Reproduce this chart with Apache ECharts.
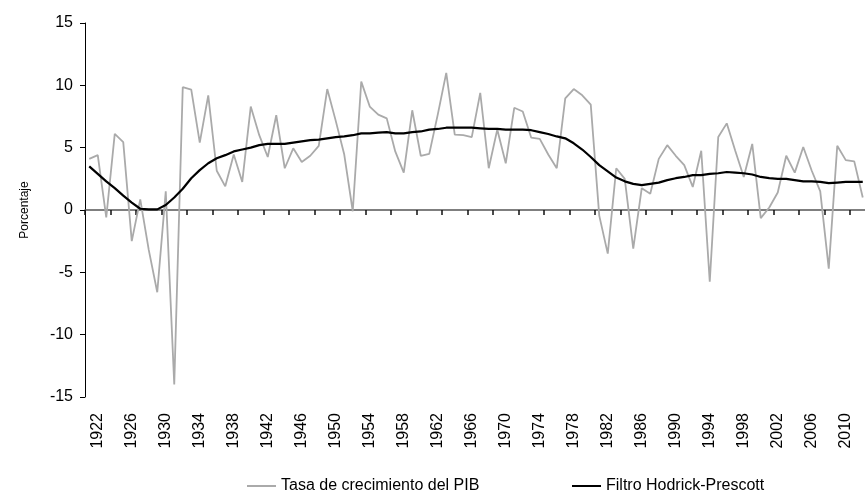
<!DOCTYPE html>
<html>
<head>
<meta charset="utf-8">
<title>Tasa de crecimiento del PIB y filtro Hodrick-Prescott</title>
<script src="https://cdn.jsdelivr.net/npm/echarts@6.0.0/dist/echarts.min.js"></script>
<style>
  html, body { margin: 0; padding: 0; background: #fff; }
  #chart { width: 865px; height: 501px; }
</style>
</head>
<body>
<div id="chart"></div>
<script>
const firstYear = 1922
const lastYear = 2013
const years = []
for (let y = firstYear; y <= lastYear; y++) years.push(String(y))

// tasa anual de crecimiento del PIB (%)
const pibGrowth = [
  4.1, 4.4, -0.6, 6.1, 5.45, -2.5, 0.85, -3.2, -6.6, 1.5,
  -14.0, 9.85, 9.65, 5.4, 9.2, 3.15, 1.9, 4.45, 2.25, 8.3,
  6.0, 4.25, 7.6, 3.35, 4.95, 3.85, 4.35, 5.15, 9.7, 7.15,
  4.45, -0.1, 10.3, 8.3, 7.65, 7.35, 4.7, 3.0, 8.0, 4.35,
  4.5, 7.65, 11.0, 6.05, 6.0, 5.85, 9.4, 3.35, 6.45, 3.75,
  8.2, 7.9, 5.8, 5.7, 4.45, 3.35, 8.95, 9.7, 9.2, 8.45,
  -0.45, -3.5, 3.35, 2.5, -3.1, 1.75, 1.3, 4.1, 5.2, 4.35,
  3.6, 1.85, 4.75, -5.75, 5.85, 6.95, 4.75, 2.65, 5.3, -0.65,
  0.2, 1.4, 4.35, 3.0, 5.05, 3.15, 1.5, -4.7, 5.15, 4.0,
  3.9, 1.0,
]

// tendencia del filtro Hodrick-Prescott (%)
const hpTrend = [
  3.5, 2.9, 2.3, 1.75, 1.15, 0.6, 0.1, 0.05, 0.05, 0.4,
  1.0, 1.7, 2.55, 3.2, 3.75, 4.15, 4.4, 4.7, 4.85, 5.0,
  5.2, 5.3, 5.3, 5.3, 5.4, 5.5, 5.6, 5.65, 5.75, 5.85,
  5.9, 6.0, 6.15, 6.15, 6.2, 6.25, 6.15, 6.15, 6.25, 6.3,
  6.45, 6.5, 6.6, 6.6, 6.6, 6.6, 6.55, 6.5, 6.5, 6.45,
  6.45, 6.45, 6.4, 6.25, 6.1, 5.9, 5.75, 5.35, 4.85, 4.25,
  3.6, 3.1, 2.6, 2.3, 2.1, 2.0, 2.1, 2.2, 2.4, 2.55,
  2.65, 2.8, 2.8, 2.9, 2.95, 3.05, 3.0, 2.95, 2.85, 2.65,
  2.55, 2.5, 2.5, 2.4, 2.3, 2.3, 2.25, 2.15, 2.2, 2.25,
  2.25, 2.25,
]

const seriesNames = ['Tasa de crecimiento del PIB', 'Filtro Hodrick-Prescott']
const yMin = -15
const yMax = 15
const yStep = 5
const tickEvery = 3   // a tick mark every three years on the zero line

const gridTop = 23
const gridHeight = 374
// pixel distance from the top of the plot down to the zero line
const zeroOffset = gridHeight * yMax / (yMax - yMin)

const font = "'Liberation Sans Narrow', 'Liberation Sans', sans-serif"
const txt = (size) => ({ fontFamily: font, fontSize: size, color: '#000' })

const chart = echarts.init(document.getElementById('chart'))

chart.setOption({
  animation: false,
  backgroundColor: '#fff',
  textStyle: { fontFamily: font },
  grid: { left: 85, top: gridTop, width: 782, height: gridHeight, outerBoundsMode: 'none', containLabel: false },
  legend: [
    {
      data: [{ name: seriesNames[0], icon: 'rect' }],
      left: 247,
      top: 478,
      padding: 0,
      itemWidth: 29,
      itemHeight: 2,
      textStyle: txt(16),
    },
    {
      data: [{ name: seriesNames[1], icon: 'rect' }],
      left: 572,
      top: 478,
      padding: 0,
      itemWidth: 29,
      itemHeight: 2,
      textStyle: txt(16),
    },
  ],
  xAxis: [
    {
      // year labels along the bottom of the plot
      type: 'category',
      data: years,
      position: 'bottom',
      axisLine: { show: false, onZero: false },
      axisTick: { show: false },
      axisLabel: Object.assign({
        interval: 3,
        rotate: 90,
        margin: 16,
        verticalAlign: 'top',
      }, txt(16)),
      splitLine: { show: false },
    },
    {
      // the axis line with its ticks runs through zero; one unit per year band
      type: 'value',
      min: 0,
      max: years.length,
      interval: tickEvery,
      position: 'top',
      offset: -zeroOffset,
      axisLine: { show: true, onZero: false, lineStyle: { color: '#555', width: 1.5 } },
      axisTick: { show: true, inside: true, length: 5, lineStyle: { color: '#111', width: 1.5 } },
      axisLabel: { show: false },
      splitLine: { show: false },
    },
  ],
  yAxis: {
    type: 'value',
    min: yMin,
    max: yMax,
    interval: yStep,
    name: 'Porcentaje',
    nameLocation: 'middle',
    nameGap: 54,
    nameTextStyle: txt(12),
    axisLine: { show: true, lineStyle: { color: '#000', width: 1 } },
    axisTick: { show: true, length: 5, lineStyle: { color: '#000' } },
    axisLabel: Object.assign({ margin: 12 }, txt(16)),
    splitLine: { show: false },
  },
  series: [
    {
      name: seriesNames[0],
      type: 'line',
      xAxisIndex: 0,
      data: pibGrowth,
      symbol: 'none',
      color: '#aaaaaa',
      lineStyle: { color: '#aaaaaa', width: 1.8 },
      z: 2,
    },
    {
      name: seriesNames[1],
      type: 'line',
      xAxisIndex: 0,
      data: hpTrend,
      symbol: 'none',
      color: '#000',
      lineStyle: { color: '#000', width: 2.2 },
      z: 3,
    },
  ],
})
</script>
</body>
</html>
